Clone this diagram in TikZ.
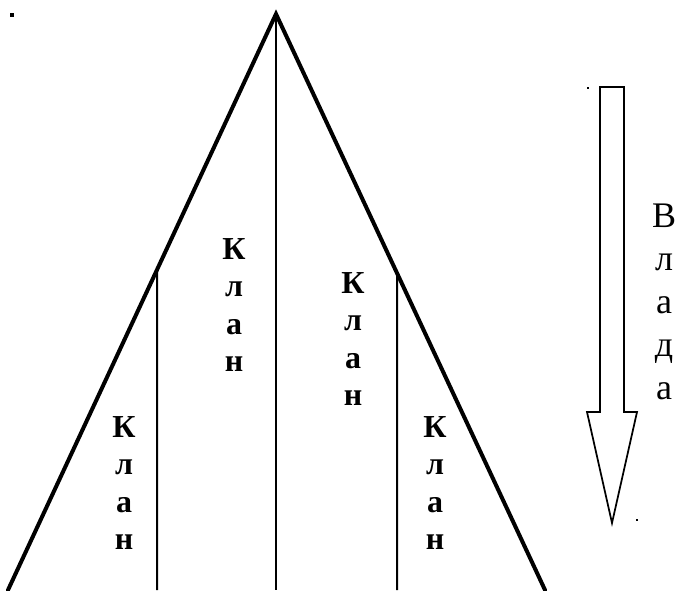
\documentclass[tikz,border=0pt]{standalone}
\usepackage{fontspec}
\setmainfont{Liberation Serif}
\begin{document}
\begin{tikzpicture}[x=0.75pt,y=-0.75pt,
  side/.style={line width=3pt, line cap=round},
  wall/.style={line width=1.5pt},
  clan/.style={font=\fontsize{24}{28.1}\selectfont\bfseries, align=center, inner sep=0pt, anchor=north},
  power/.style={font=\fontsize{27}{32.25}\selectfont, align=center, inner sep=0pt, anchor=north}]
\useasboundingbox (0,0) rectangle (680,590);
% triangle
\coordinate (A) at (276,14);
\coordinate (L) at (8,590);
\coordinate (R) at (545,590);
\draw[side] (L)--(A)--(R);
\draw[wall] (A)--(276,590);
\draw[wall] (intersection of A--L and 157,0--157,600)--(157,590);
\draw[wall] (intersection of A--R and 397,0--397,600)--(397,590);
% clans
\node[clan] (k1) at (124,416) {К\\л\\а\\н};
\node[clan] (k2) at (234,238) {К\\л\\а\\н};
\node[clan] (k3) at (353,272) {К\\л\\а\\н};
\node[clan] (k4) at (435,416) {К\\л\\а\\н};
% arrow
\draw[line width=1.3pt, line join=miter] (600,87)--(624,87)--(624,412)--(637,412)--(612,523)--(587,412)--(600,412)--cycle;
\node[power] (v) at (664,204) {В\\л\\а\\д\\а};
% dots
\fill (10,13) rectangle (14,17);
\fill (587,87) rectangle (589,89);
\fill (636,519) rectangle (638,521);
\end{tikzpicture}
\end{document}
